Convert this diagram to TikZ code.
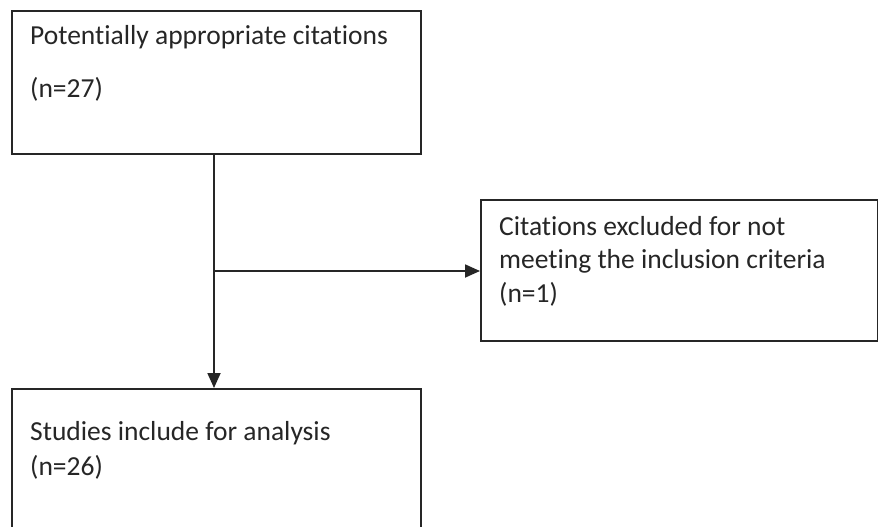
\documentclass[tikz,border=0pt]{standalone}
\usepackage{fontspec}
\setmainfont[Ligatures=NoCommon]{Carlito}
\usetikzlibrary{arrows.meta}
\begin{document}
\begin{tikzpicture}[x=1pt,y=-1pt,
  box/.style={draw=black!85,line width=1.8pt,rectangle,inner sep=0pt},
  lbl/.style={anchor=base west,inner sep=0pt,font=\fontsize{27.5}{32}\selectfont,text=black!85},
  conn/.style={draw=black!85,line width=1.8pt},
  arr/.style={conn,-{Triangle[length=15pt,width=13pt]}}]
\useasboundingbox (0,0) rectangle (878,527);
\clip (0,0) rectangle (878,527);
\fill[white] (0,0) rectangle (878,527);
% boxes
\node[box,minimum width=409pt,minimum height=143pt,anchor=north west] (b1) at (11,10) {};
\node[box,minimum width=397pt,minimum height=141pt,anchor=north west] (b2) at (480,199) {};
\node[box,minimum width=409pt,minimum height=160pt,anchor=north west] (b3) at (11,388) {};
% texts
\node[lbl] (t1a) at (30,45) {Potentially appropriate citations};
\node[lbl] (t1b) at (30,97) {(n=27)};
\node[lbl] (t2a) at (499,235) {Citations excluded for not};
\node[lbl] (t2b) at (499,268) {meeting the inclusion criteria};
\node[lbl] (t2c) at (499,302) {(n=1)};
\node[lbl] (t3a) at (30,440) {Studies include for analysis};
\node[lbl] (t3b) at (30,475) {(n=26)};
% connectors
\coordinate (j) at (214,271);
\draw[arr] (b1.south -| j) -- (b3.north -| j);
\draw[arr] (j) -- (j -| b2.west);
\end{tikzpicture}
\end{document}
